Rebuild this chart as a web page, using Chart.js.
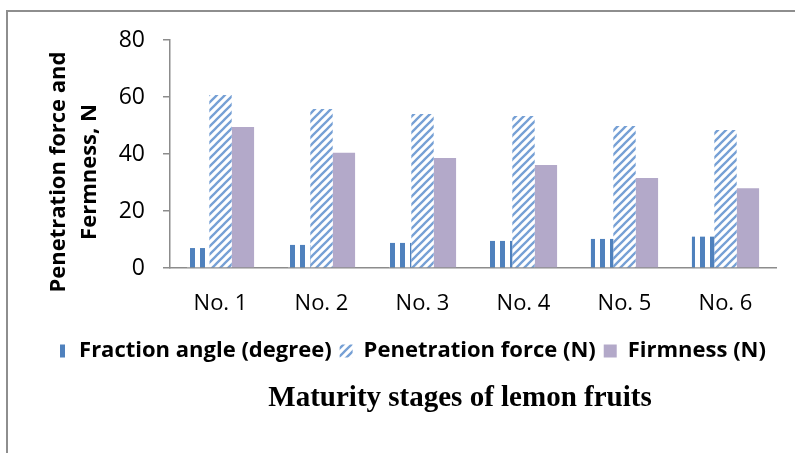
<!DOCTYPE html>
<html>
<head>
<meta charset="utf-8">
<script src="https://cdn.jsdelivr.net/npm/chart.js@4.4.1/dist/chart.umd.min.js"></script>
<style>
  html, body { margin: 0; padding: 0; background: #fff; }
  #wrap { position: relative; width: 795px; height: 453px; overflow: hidden; }
  #frame { position: absolute; left: 6px; top: 10px; width: 820px; height: 480px;
           border-left: 2px solid #8e8e8e; border-top: 2px solid #8e8e8e; }
  canvas { position: absolute; left: 0; top: 0; }
</style>
</head>
<body>
<div id="wrap">
  <div id="frame"></div>
  <canvas id="chart" width="795" height="453"></canvas>
</div>
<script>
const stages = ['No. 1', 'No. 2', 'No. 3', 'No. 4', 'No. 5', 'No. 6'];
const fractionAngle = [7.0, 8.1, 8.8, 9.5, 10.2, 11.0];
const penetrationForce = [60.7, 55.8, 54.0, 53.3, 49.8, 48.4];
const firmness = [49.5, 40.4, 38.6, 36.1, 31.6, 28.0];
const yTicks = [0, 20, 40, 60, 80];
const yTitleLines = ['Penetration force and', 'Fermness, N'];
const xTitle = 'Maturity stages of lemon fruits';

const blue = '#4F81BD';
const lilac = '#B3A9C9';
const sans = '"Open Sans"';

function stripePattern() {
    const c = document.createElement('canvas');
    c.width = 10; c.height = 10;
    const g = c.getContext('2d');
    g.fillStyle = '#fff';
    g.fillRect(0, 0, 10, 10);
    g.fillStyle = blue;
    g.fillRect(0, 0, 5, 10);
    return g.createPattern(c, 'repeat');
}

function diagonalPattern() {
    const c = document.createElement('canvas');
    c.width = 8; c.height = 8;
    const g = c.getContext('2d');
    g.fillStyle = '#fff';
    g.fillRect(0, 0, 8, 8);
    g.strokeStyle = '#76A0D5';
    g.lineWidth = 2.3;
    g.beginPath();
    g.moveTo(-2, 10); g.lineTo(10, -2);
    g.moveTo(-6, 6); g.lineTo(6, -6);
    g.moveTo(2, 14); g.lineTo(14, 2);
    g.stroke();
    return g.createPattern(c, 'repeat');
}

// axis titles are drawn by hand so they sit where the original has them
const axisTitles = {
    id: 'axisTitles',
    afterDraw(chart) {
        const ctx = chart.ctx;
        ctx.save();
        ctx.fillStyle = '#000';
        ctx.textAlign = 'center';
        ctx.textBaseline = 'middle';
        ctx.font = 'bold 29px "Liberation Serif"';
        ctx.fillText(xTitle, 460, 399);
        ctx.translate(74, 172);
        ctx.rotate(-Math.PI / 2);
        ctx.font = 'bold 22px ' + sans;
        ctx.fillText(yTitleLines[0], 0, -15);
        ctx.fillText(yTitleLines[1], 0, 16);
        ctx.restore();
    }
};

new Chart(document.getElementById('chart'), {
    type: 'bar',
    data: {
        labels: stages,
        datasets: [{
            label: 'Fraction angle (degree)',
            data: fractionAngle,
            backgroundColor: stripePattern(),
            borderWidth: 0
        }, {
            label: 'Penetration force (N)',
            data: penetrationForce,
            backgroundColor: diagonalPattern(),
            borderWidth: 0
        }, {
            label: 'Firmness (N)',
            data: firmness,
            backgroundColor: lilac,
            borderWidth: 0
        }]
    },
    options: {
        responsive: false,
        animation: false,
        layout: { padding: { left: 45, right: 19, top: 40, bottom: 81 } },
        datasets: { bar: { categoryPercentage: 0.665, barPercentage: 1 } },
        plugins: {
            tooltip: { enabled: false },
            title: { display: false },
            legend: {
                position: 'bottom',
                labels: {
                    boxWidth: 13, boxHeight: 13, padding: 8,
                    color: '#000',
                    font: { family: sans, size: 22, weight: 'bold' }
                }
            }
        },
        scales: {
            x: {
                grid: { display: false, drawTicks: false },
                border: { display: true, color: '#8c8c8c', width: 1.5 },
                ticks: { color: '#000', padding: 23, font: { family: sans, size: 22 } },
                afterFit(scale) { scale.height = 64; }
            },
            y: {
                min: 0, max: 80,
                grid: { drawOnChartArea: false, drawTicks: true, tickLength: 7, color: '#8c8c8c', lineWidth: 1.5 },
                border: { display: true, color: '#8c8c8c', width: 1.5 },
                ticks: { color: '#000', padding: 18, font: { family: sans, size: 23 } },
                afterBuildTicks(scale) { scale.ticks = yTicks.map(v => ({ value: v })); },
                afterFit(scale) { scale.width = 125; }
            }
        }
    },
    plugins: [axisTitles]
});
</script>
</body>
</html>
